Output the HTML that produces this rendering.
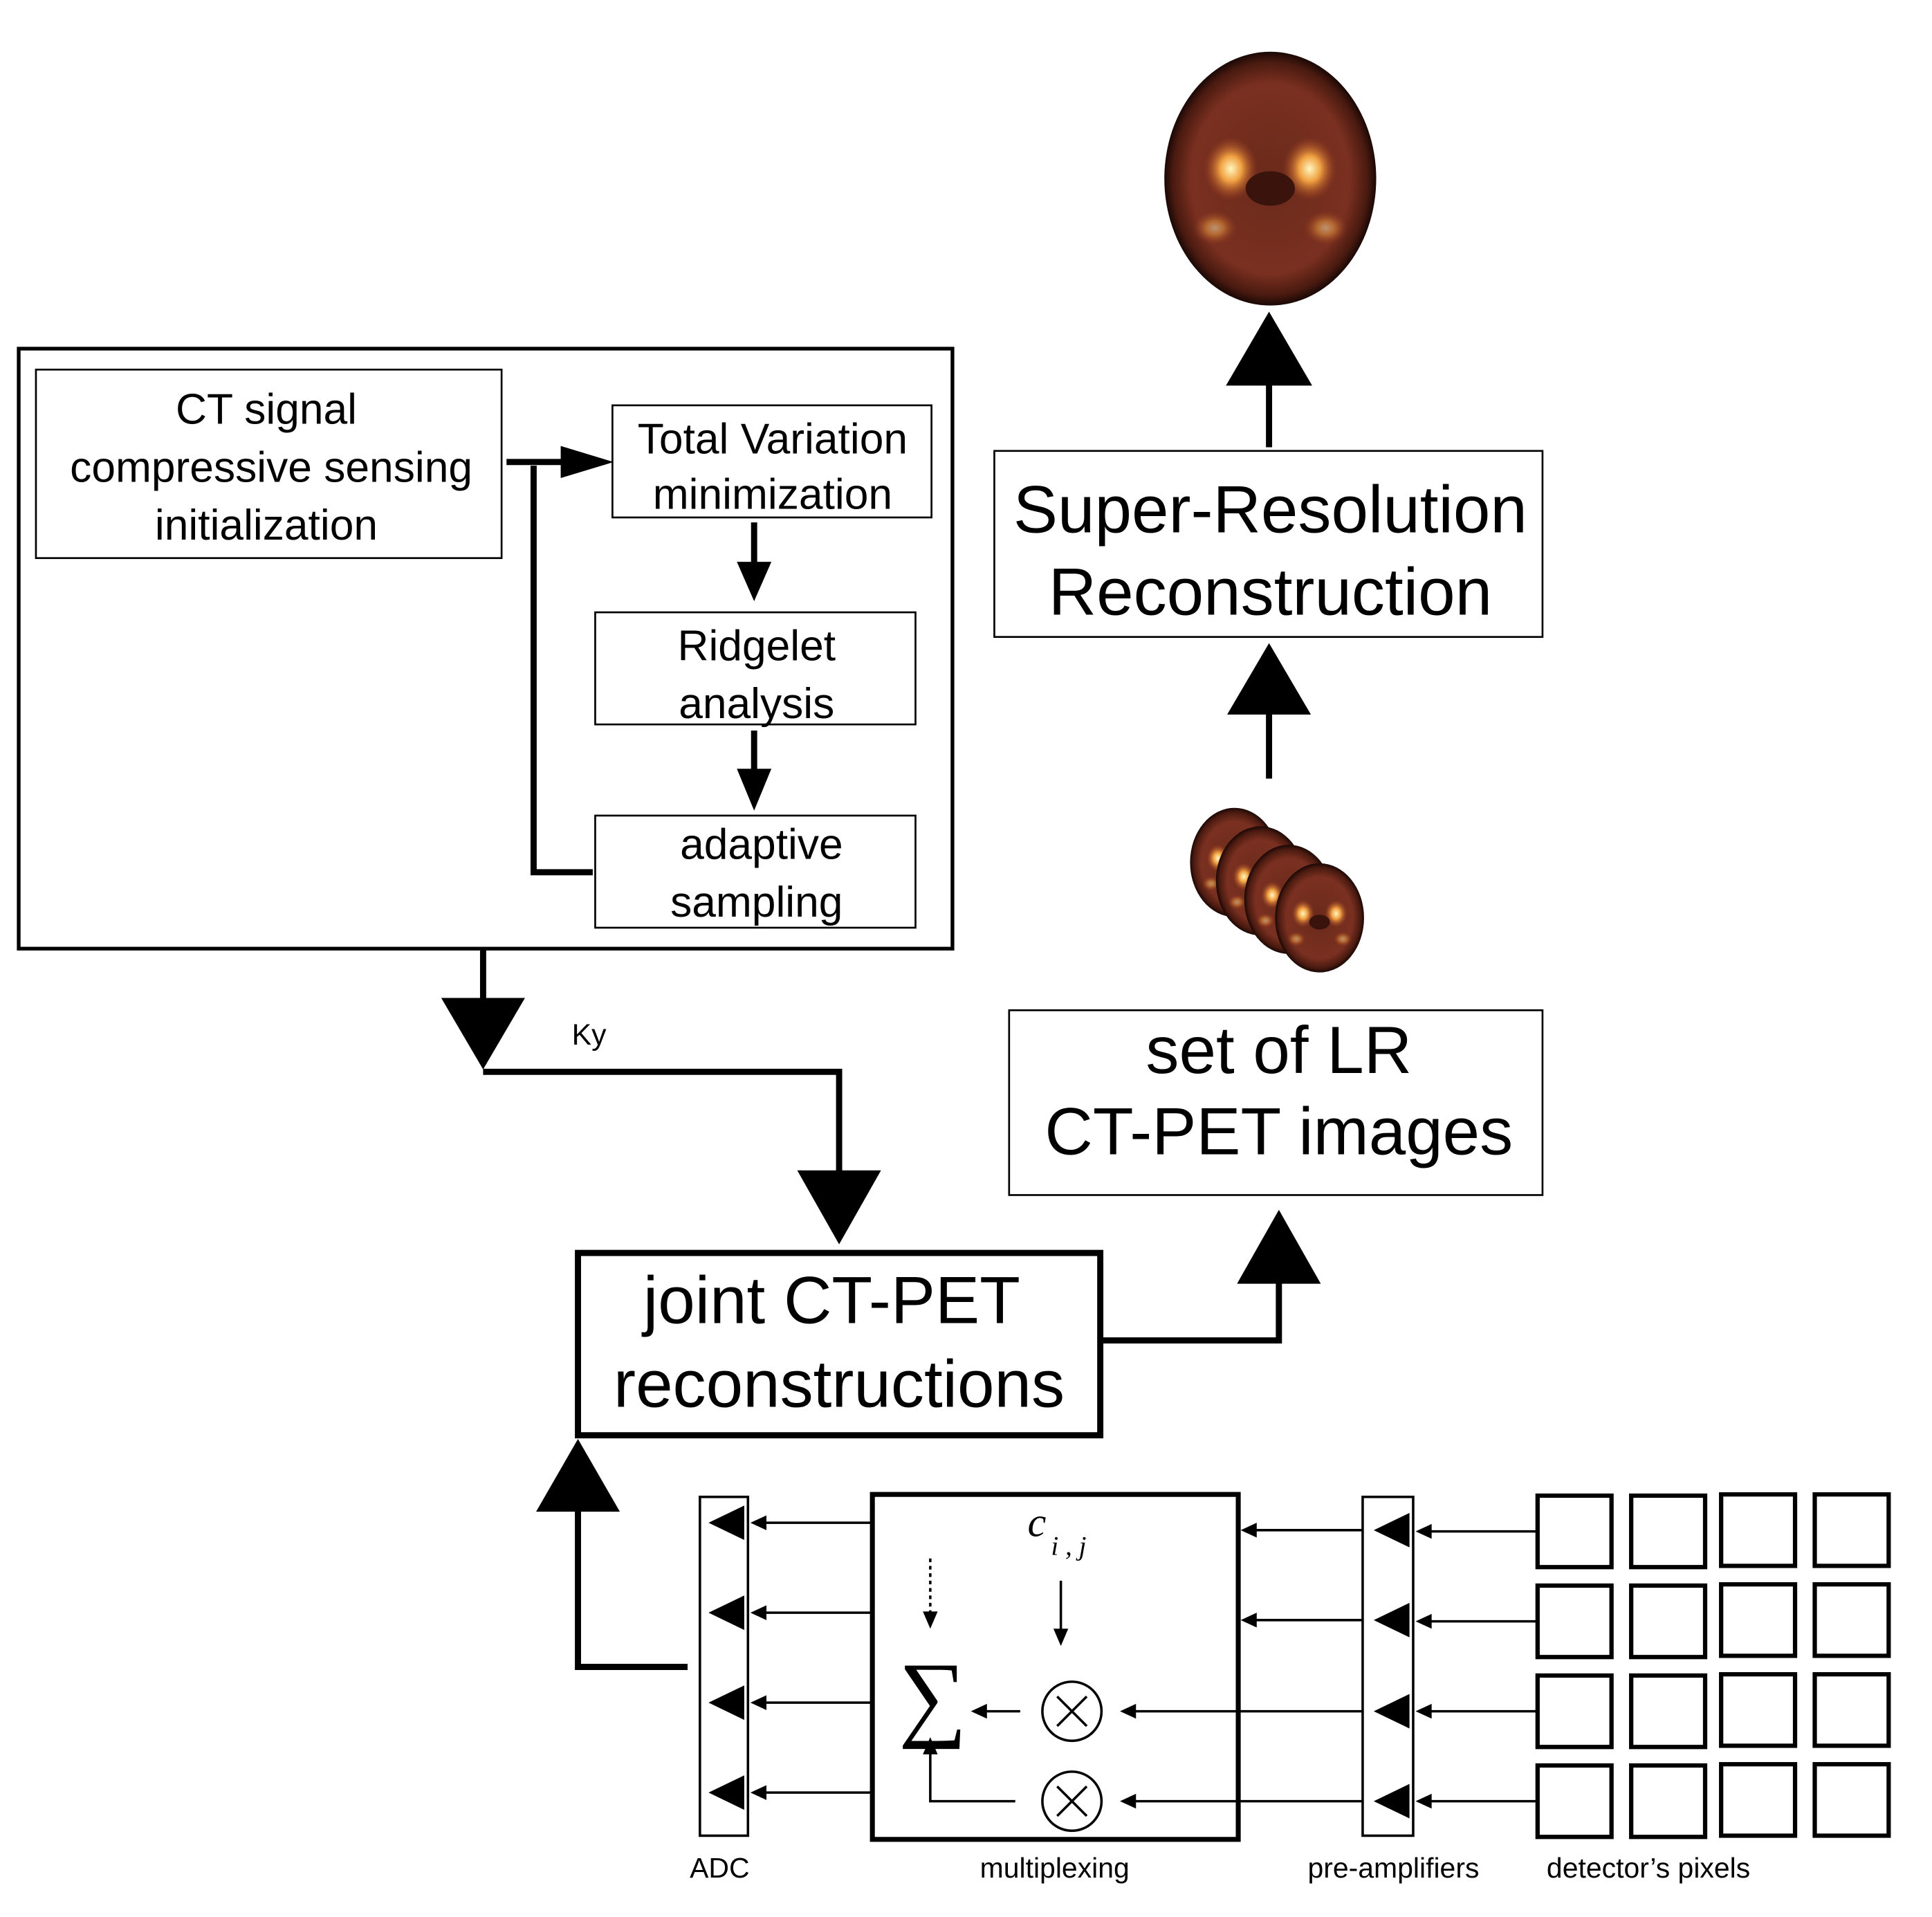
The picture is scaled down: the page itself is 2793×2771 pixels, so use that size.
<!DOCTYPE html>
<html><head><meta charset="utf-8"><style>html,body{margin:0;padding:0;background:#fff}svg{display:block}</style></head><body>
<svg width="2793" height="2771" viewBox="0 0 1568 1556" xmlns="http://www.w3.org/2000/svg" font-family="Liberation Sans, sans-serif">
<defs>
<radialGradient id="br" cx="50%" cy="50%" r="50%">
<stop offset="0" stop-color="#6a2a1a"/><stop offset="0.75" stop-color="#7a3020"/><stop offset="0.92" stop-color="#4a1a10"/><stop offset="1" stop-color="#1a0805"/>
</radialGradient>
<radialGradient id="sp"><stop offset="0" stop-color="#fff6c0"/><stop offset="0.4" stop-color="#f0a040"/><stop offset="1" stop-color="#a04020" stop-opacity="0"/></radialGradient>
<g id="brain">
<ellipse cx="0" cy="0" rx="86" ry="103" fill="url(#br)"/>
<ellipse cx="-32" cy="-8" rx="22" ry="26" fill="url(#sp)"/>
<ellipse cx="32" cy="-8" rx="22" ry="26" fill="url(#sp)"/>
<ellipse cx="0" cy="8" rx="20" ry="14" fill="#3a140c"/>
<ellipse cx="-45" cy="40" rx="18" ry="14" fill="url(#sp)" opacity="0.5"/>
<ellipse cx="45" cy="40" rx="18" ry="14" fill="url(#sp)" opacity="0.5"/>
</g>
</defs>
<use href="#brain" transform="translate(1031,145)"/>
<use href="#brain" transform="translate(1002,700) scale(0.42,0.43)"/>
<use href="#brain" transform="translate(1023,715) scale(0.42,0.43)"/>
<use href="#brain" transform="translate(1046,730) scale(0.42,0.43)"/>
<use href="#brain" transform="translate(1071,745) scale(0.42,0.43)"/>

<g fill="none" stroke="#000">
<rect x="15" y="283" width="758" height="487" stroke-width="3"/>
<rect x="29" y="300" width="378" height="153" stroke-width="1.5"/>
<rect x="497" y="329" width="259" height="91" stroke-width="1.5"/>
<rect x="483" y="497" width="260" height="91" stroke-width="1.5"/>
<rect x="483" y="662" width="260" height="91" stroke-width="1.5"/>
<rect x="807" y="366" width="445" height="151" stroke-width="1.5"/>
<rect x="819" y="820" width="433" height="150" stroke-width="1.5"/>
<rect x="469" y="1017" width="424" height="148" stroke-width="5"/>
<polyline points="411,375 460,375" stroke-width="5"/>
<polyline points="481,708 433,708 433,378" stroke-width="5"/>
<line x1="612" y1="424" x2="612" y2="460" stroke-width="5"/>
<line x1="612" y1="593" x2="612" y2="628" stroke-width="5"/>
<line x1="1030" y1="310" x2="1030" y2="363" stroke-width="5"/>
<line x1="1030" y1="575" x2="1030" y2="632" stroke-width="5"/>
<polyline points="392,770 392,815" stroke-width="5"/>
<polyline points="392,870 681,870 681,955" stroke-width="5"/>
<polyline points="895,1088 1038,1088 1038,1040" stroke-width="5"/>
<polyline points="558,1353 469,1353 469,1225" stroke-width="5"/>
<rect x="708" y="1213" width="297" height="280" stroke-width="4"/>
<rect x="568" y="1215" width="39" height="275" stroke-width="2"/>
<rect x="1106" y="1215" width="41" height="275" stroke-width="2"/>
</g>
<g fill="#000">
<polygon points="498,375 455,362 455,388"/>
<polygon points="612,488 598,456 626,456"/>
<polygon points="612,658 598,624 626,624"/>
<polygon points="1030,253 995,313 1065,313"/>
<polygon points="1030,522 996,580 1064,580"/>
<polygon points="392,868 358,810 426,810"/>
<polygon points="681,1010 647,950 715,950"/>
<polygon points="1038,982 1004,1042 1072,1042"/>
<polygon points="469,1168 435,1227 503,1227"/>
</g>
<g font-size="35" text-anchor="middle" fill="#000">
<text x="216" y="344">CT signal</text>
<text x="220" y="391">compressive sensing</text>
<text x="216" y="438">initialization</text>
<text x="627" y="368">Total Variation</text>
<text x="627" y="413">minimization</text>
<text x="614" y="536">Ridgelet</text>
<text x="614" y="583">analysis</text>
<text x="618" y="697">adaptive</text>
<text x="614" y="744">sampling</text>
</g>
<g font-size="54" text-anchor="middle" fill="#000">
<text x="1031" y="432">Super-Resolution</text>
<text x="1031" y="499">Reconstruction</text>
<text x="1038" y="871">set of LR</text>
<text x="1038" y="937">CT-PET images</text>
<text x="675" y="1074">joint CT-PET</text>
<text x="681" y="1142">reconstructions</text>
</g>
<text x="464" y="848" font-size="24">Ky</text>
<g stroke="#000" stroke-width="2" fill="none">
<line x1="612" y1="1236" x2="708" y2="1236"/><line x1="612" y1="1309" x2="708" y2="1309"/>
<line x1="612" y1="1382" x2="708" y2="1382"/><line x1="612" y1="1455" x2="708" y2="1455"/>
<line x1="1010" y1="1242" x2="1106" y2="1242"/><line x1="1010" y1="1315" x2="1106" y2="1315"/>
<line x1="912" y1="1389" x2="1106" y2="1389"/><line x1="912" y1="1462" x2="1106" y2="1462"/>
<line x1="1152" y1="1243" x2="1248" y2="1243"/><line x1="1152" y1="1316" x2="1248" y2="1316"/>
<line x1="1152" y1="1389" x2="1248" y2="1389"/><line x1="1152" y1="1462" x2="1248" y2="1462"/>
<line x1="792" y1="1389" x2="828" y2="1389"/>
<polyline points="824,1462 755,1462 755,1415"/>
<line x1="861" y1="1283" x2="861" y2="1330"/>
<line x1="755" y1="1265" x2="755" y2="1315" stroke-dasharray="3,3"/>
<circle cx="870" cy="1389" r="24"/><circle cx="870" cy="1462" r="24"/>
<path d="M858,1377 L882,1401 M882,1377 L858,1401 M858,1450 L882,1474 M882,1450 L858,1474"/>
</g>
<g fill="#000">
<polygon points="575,1236 604,1222 604,1250"/><polygon points="575,1309 604,1295 604,1323"/>
<polygon points="575,1382 604,1368 604,1396"/><polygon points="575,1455 604,1441 604,1469"/>
<polygon points="1115,1242 1144,1228 1144,1256"/><polygon points="1115,1315 1144,1301 1144,1329"/>
<polygon points="1115,1389 1144,1375 1144,1403"/><polygon points="1115,1462 1144,1448 1144,1476"/>
<polygon points="609,1236 622,1230 622,1242"/><polygon points="609,1309 622,1303 622,1315"/>
<polygon points="609,1382 622,1376 622,1388"/><polygon points="609,1455 622,1449 622,1461"/>
<polygon points="1007,1242 1020,1236 1020,1248"/><polygon points="1007,1315 1020,1309 1020,1321"/>
<polygon points="909,1389 922,1383 922,1395"/><polygon points="909,1462 922,1456 922,1468"/>
<polygon points="1149,1243 1162,1237 1162,1249"/><polygon points="1149,1316 1162,1310 1162,1322"/>
<polygon points="1149,1389 1162,1383 1162,1395"/><polygon points="1149,1462 1162,1456 1162,1468"/>
<polygon points="788,1389 801,1383 801,1395"/>
<polygon points="755,1410 749,1424 761,1424"/>
<polygon points="861,1336 855,1322 867,1322"/>
<polygon points="755,1322 749,1308 761,1308"/>
</g>
<text x="757" y="1403" font-size="78" font-family="Liberation Serif, serif" text-anchor="middle">∑</text>
<text x="834" y="1247" font-size="34" font-style="italic" font-family="Liberation Serif, serif">c</text>
<text x="853" y="1262" font-size="22" font-style="italic" font-family="Liberation Serif, serif">i , j</text>
<g fill="none" stroke="#000" stroke-width="3.5">
<rect x="1248" y="1214" width="60" height="58"/><rect x="1324" y="1214" width="60" height="58"/><rect x="1397" y="1213" width="60" height="58"/><rect x="1473" y="1213" width="60" height="58"/>
<rect x="1248" y="1287" width="60" height="58"/><rect x="1324" y="1287" width="60" height="58"/><rect x="1397" y="1286" width="60" height="58"/><rect x="1473" y="1286" width="60" height="58"/>
<rect x="1248" y="1360" width="60" height="58"/><rect x="1324" y="1360" width="60" height="58"/><rect x="1397" y="1359" width="60" height="58"/><rect x="1473" y="1359" width="60" height="58"/>
<rect x="1248" y="1433" width="60" height="58"/><rect x="1324" y="1433" width="60" height="58"/><rect x="1397" y="1432" width="60" height="58"/><rect x="1473" y="1432" width="60" height="58"/>
</g>
<g font-size="23" text-anchor="middle" fill="#000">
<text x="584" y="1524">ADC</text>
<text x="856" y="1524">multiplexing</text>
<text x="1131" y="1524">pre-amplifiers</text>
<text x="1338" y="1524">detector’s pixels</text>
</g>
</svg>
</body></html>
